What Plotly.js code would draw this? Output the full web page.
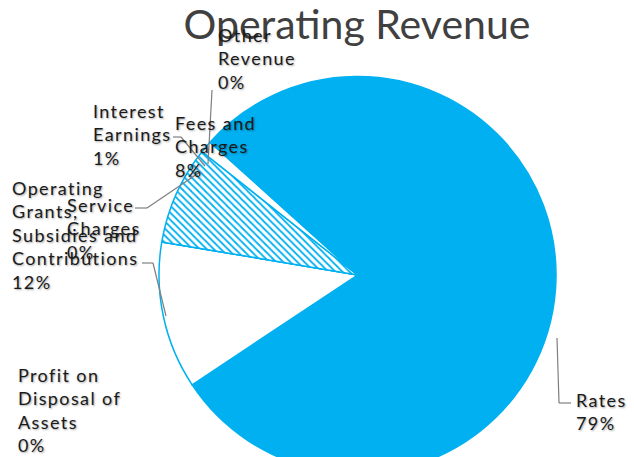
<!DOCTYPE html>
<html>
<head>
<meta charset="utf-8">
<script src="https://cdn.plot.ly/plotly-3.0.1.min.js"></script>
<style>
  html, body { margin: 0; padding: 0; overflow: hidden; background: #fff; }
  #chart { width: 634px; height: 550px; }
  .annotation-text { letter-spacing: 1.4px; }
</style>
</head>
<body>
<div id="chart"></div>
<script>
var categories = ['Rates', 'Profit on Disposal of Assets', 'Operating Grants, Subsidies and Contributions',
  'Service Charges', 'Fees and Charges', 'Interest Earnings', 'Other Revenue'];
var values = [79, 0, 12, 0, 8, 1, 0];
var labelLines = [
  ['Rates'],
  ['Profit on', 'Disposal of', 'Assets'],
  ['Operating', 'Grants,', 'Subsidies and', 'Contributions'],
  ['Service', 'Charges'],
  ['Fees and', 'Charges'],
  ['Interest', 'Earnings'],
  ['Other', 'Revenue']
];

var W = 634, H = 550;
function px(x) { return x / W; }
function py(y) { return 1 - y / H; }

var blue = '#00B0F0';

var trace = {
  type: 'pie',
  labels: categories,
  values: values,
  sort: false,
  direction: 'clockwise',
  rotation: 312,
  textinfo: 'none',
  hoverinfo: 'label+percent',
  domain: { x: [px(159), px(556)], y: [0, 1] },
  marker: {
    colors: [blue, 'white', 'white', 'white', blue, 'white', 'white'],
    line: { color: blue, width: 1.5 },
    pattern: {
      shape: ['', '', '', '', '\\', '', ''],
      fillmode: 'replace',
      size: 5,
      solidity: 0.35
    }
  },
  showlegend: false
};

// label anchor (top-left corner, pixels)
var labelPos = [[574, 387], [16, 362], [10, 175], [65, 192], [173, 110], [91, 98], [216, 22]];

var total = values.reduce(function (a, b) { return a + b; }, 0);
var annotations = categories.map(function (c, i) {
  var pct = Math.round(values[i] / total * 100) + '%';
  return {
    xref: 'paper', yref: 'paper',
    x: px(labelPos[i][0]), y: py(labelPos[i][1]),
    xanchor: 'left', yanchor: 'top', align: 'left',
    showarrow: false,
    text: labelLines[i].concat([pct]).join('<br>'),
    font: { family: 'Lato, sans-serif', size: 18, color: '#1a1a1a', shadow: '1px 1px 2px rgba(0,0,0,0.35)' }
  };
});

// leader lines (pixel polylines)
var leaders = [
  [[557, 338], [559, 403], [571, 403]],
  [[142, 263], [153, 263], [166, 316]],
  [[135, 208], [147, 208], [200, 172]],
  [[173, 137], [181, 137], [205, 166]],
  [[212, 90], [208, 164]]
];
var shapes = [];
leaders.forEach(function (pts) {
  for (var k = 0; k < pts.length - 1; k++) {
    shapes.push({
      type: 'line', xref: 'paper', yref: 'paper',
      x0: px(pts[k][0]), y0: py(pts[k][1]),
      x1: px(pts[k + 1][0]), y1: py(pts[k + 1][1]),
      line: { color: '#7f7f7f', width: 1.2 }
    });
  }
});

var layout = {
  width: W,
  height: H,
  margin: { l: 0, r: 0, t: 0, b: 0 },
  paper_bgcolor: 'white',
  title: {
    text: 'Operating Revenue',
    x: 357 / W, xanchor: 'center',
    y: 1 - 25 / H, yanchor: 'middle',
    font: { family: 'Lato, sans-serif', size: 41, color: '#404040' }
  },
  annotations: annotations,
  shapes: shapes
};

Plotly.newPlot('chart', [trace], layout, { displayModeBar: false });
</script>
</body>
</html>
